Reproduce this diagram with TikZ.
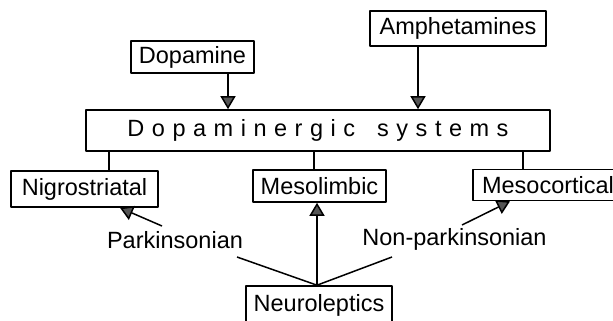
\documentclass[tikz,border=0pt]{standalone}
\usepackage{fontspec}
\setmainfont{Liberation Sans}
\usetikzlibrary{arrows.meta}
\definecolor{tipgray}{HTML}{555555}
\begin{document}
\begin{tikzpicture}[x=1pt,y=-1pt,>={Triangle[width=15pt,length=13pt,fill=tipgray]},line join=bevel,
  box/.style={draw,line width=1.6pt,inner sep=0pt,font=\fontsize{23.5}{27}\selectfont},
  lbl/.style={inner sep=0pt,font=\fontsize{23.5}{27}\selectfont},
  link/.style={line width=1.5pt}]
\useasboundingbox (0,0) rectangle (613,321);
%%
\node (dopamine) at (192.5,57) [box,minimum width=123pt,minimum height=32pt] {Dopamine};
  \node (amph) at (458,28.5) [box,minimum width=176pt,minimum height=35pt] {Amphetamines};
  \node (dsys) at (318,130.5) [box,minimum width=464pt,minimum height=41pt] {\addfontfeature{LetterSpace=32}Dopaminergic\hspace{8pt} systems};
  \node (nigro) at (84.5,189) [box,minimum width=147pt,minimum height=36pt] {Nigrostriatal};
  \node (meso) at (319.5,186) [box,minimum width=133pt,minimum height=32pt] {Mesolimbic};
  \node (mcort) at (548,185) [box,minimum width=150pt,minimum height=31pt] {Mesocortical};
  \node (neuro) at (319,305) [box,minimum width=146pt,minimum height=38pt] {Neuroleptics};
  \node (park) at (175,240) [lbl] {Parkinsonian};
  \node (nonpark) at (454.5,239) [lbl] {Non-parkinsonian};
  \coordinate (pk1) at (237,257);
  \coordinate (pk2) at (162,226);
  \coordinate (np1) at (392,257);
  \coordinate (np2) at (462,225);
  \draw [->,link] ([xshift=35.5pt]dopamine.south) -- ([xshift=35.5pt]dopamine.south |- dsys.north);
  \draw [->,link] ([xshift=-40pt]amph.south) -- ([xshift=-40pt]amph.south |- dsys.north);
  \draw [link] ([xshift=24.5pt]nigro.north |- dsys.south) -- ([xshift=24.5pt]nigro.north);
  \draw [link] ([xshift=-5.5pt]meso.north |- dsys.south) -- ([xshift=-5.5pt]meso.north);
  \draw [link] ([xshift=-25pt]mcort.north |- dsys.south) -- ([xshift=-25pt]mcort.north);
  \draw [->,link] ([xshift=-2pt]neuro.north) -- ([xshift=-2pt]neuro.north |- meso.south);
  \draw [link] ([xshift=-2pt]neuro.north) -- (pk1);
  \draw [->,link] (pk2) -- ([xshift=35.5pt]nigro.south);
  \draw [link] ([xshift=-2pt]neuro.north) -- (np1);
  \draw [->,link] (np2) -- ([xshift=-38pt]mcort.south);
%
\end{tikzpicture}
\end{document}
